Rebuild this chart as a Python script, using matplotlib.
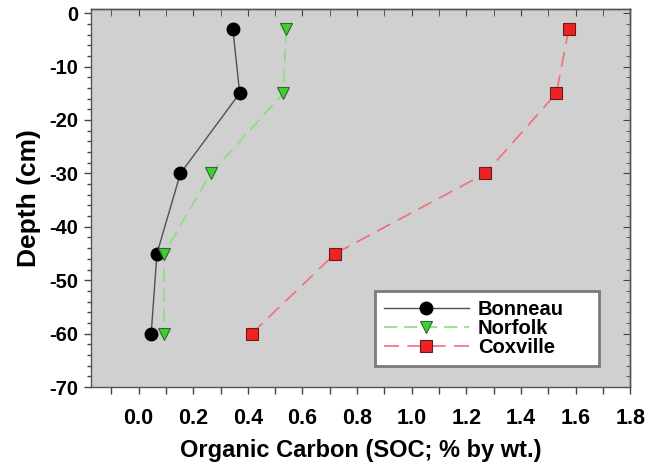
import matplotlib
matplotlib.use("Agg")
import matplotlib.pyplot as plt
from matplotlib.ticker import MultipleLocator

plt.rcParams['font.family'] = ['Liberation Sans', 'DejaVu Sans']
plt.rcParams['font.weight'] = 'bold'
plt.rcParams['axes.unicode_minus'] = False

# Depth of each sample (cm)
depth = [-3, -15, -30, -45, -60]

# Soil organic carbon (% by wt.)
bonneau = [0.345, 0.37, 0.153, 0.067, 0.046]
norfolk = [0.54, 0.53, 0.264, 0.093, 0.093]
coxville = [1.575, 1.53, 1.27, 0.72, 0.414]

x_ticks = [0.0, 0.2, 0.4, 0.6, 0.8, 1.0, 1.2, 1.4, 1.6, 1.8]
y_ticks = [0, -10, -20, -30, -40, -50, -60, -70]

fig = plt.figure(figsize=(6.49, 4.68), dpi=100)
ax = fig.add_axes([0.140, 0.173, 0.831, 0.808])
ax.set_facecolor('#d0d0d0')

ax.plot(bonneau, depth, color='#505050', linewidth=1.0, marker='o',
        markersize=9, markerfacecolor='black', markeredgecolor='black',
        label='Bonneau', zorder=3)
ax.plot(norfolk, depth, color='#88e07a', linewidth=1.2, dashes=(8, 4),
        marker='v', markersize=9, markerfacecolor='#44cc33',
        markeredgecolor='#2a6a2a', markeredgewidth=0.8,
        label='Norfolk', zorder=3)
ax.plot(coxville, depth, color='#f07078', linewidth=1.2, dashes=(9, 5),
        marker='s', markersize=8, markerfacecolor='#ee2222',
        markeredgecolor='#6a1a1a', markeredgewidth=0.8,
        label='Coxville', zorder=3)

ax.set_xlim(-0.175, 1.8)
ax.set_ylim(-70, 0.8)
ax.set_xticks(x_ticks)
ax.set_xticklabels(['%.1f' % v for v in x_ticks])
ax.set_yticks(y_ticks)
ax.xaxis.set_minor_locator(MultipleLocator(0.1))
ax.yaxis.set_minor_locator(MultipleLocator(2))

ax.tick_params(axis='both', which='both', direction='out', top=False,
               right=False, width=1, color='#444444')
ax.tick_params(axis='y', which='major', length=5, pad=4, labelsize=14.5)
ax.tick_params(axis='y', which='minor', length=3)
ax.tick_params(axis='x', which='both', length=5, pad=10, labelsize=15.5)

# inward ticks on the top and right spines
top = ax.secondary_xaxis('top')
top.set_xticks(x_ticks)
top.xaxis.set_minor_locator(MultipleLocator(0.1))
top.tick_params(which='both', direction='in', length=5, labeltop=False,
                color='#444444')
right = ax.secondary_yaxis('right')
right.set_yticks(y_ticks)
right.yaxis.set_minor_locator(MultipleLocator(2))
right.tick_params(which='major', direction='in', length=5, labelright=False,
                  color='#444444')
right.tick_params(which='minor', direction='in', length=3, color='#444444')

for sp in list(ax.spines.values()) + [top.spines['top'], right.spines['right']]:
    sp.set_color('#555555')
    sp.set_linewidth(1.0)

ax.set_xlabel('Organic Carbon (SOC; % by wt.)', fontsize=17,
              fontweight='bold', labelpad=7)
ax.set_ylabel('Depth (cm)', fontsize=19, fontweight='bold', labelpad=6)

leg = ax.legend(loc='lower left', bbox_to_anchor=(0.527, 0.056, 0.416, 0.206),
                mode='expand', fontsize=14.5, handlelength=4.2,
                fancybox=False, framealpha=1, edgecolor='#7a7a7a',
                borderpad=0.45, labelspacing=0.0, handletextpad=0.45,
                borderaxespad=0)
leg.get_frame().set_linewidth(2.0)

fig.savefig('out.png', dpi=100)
